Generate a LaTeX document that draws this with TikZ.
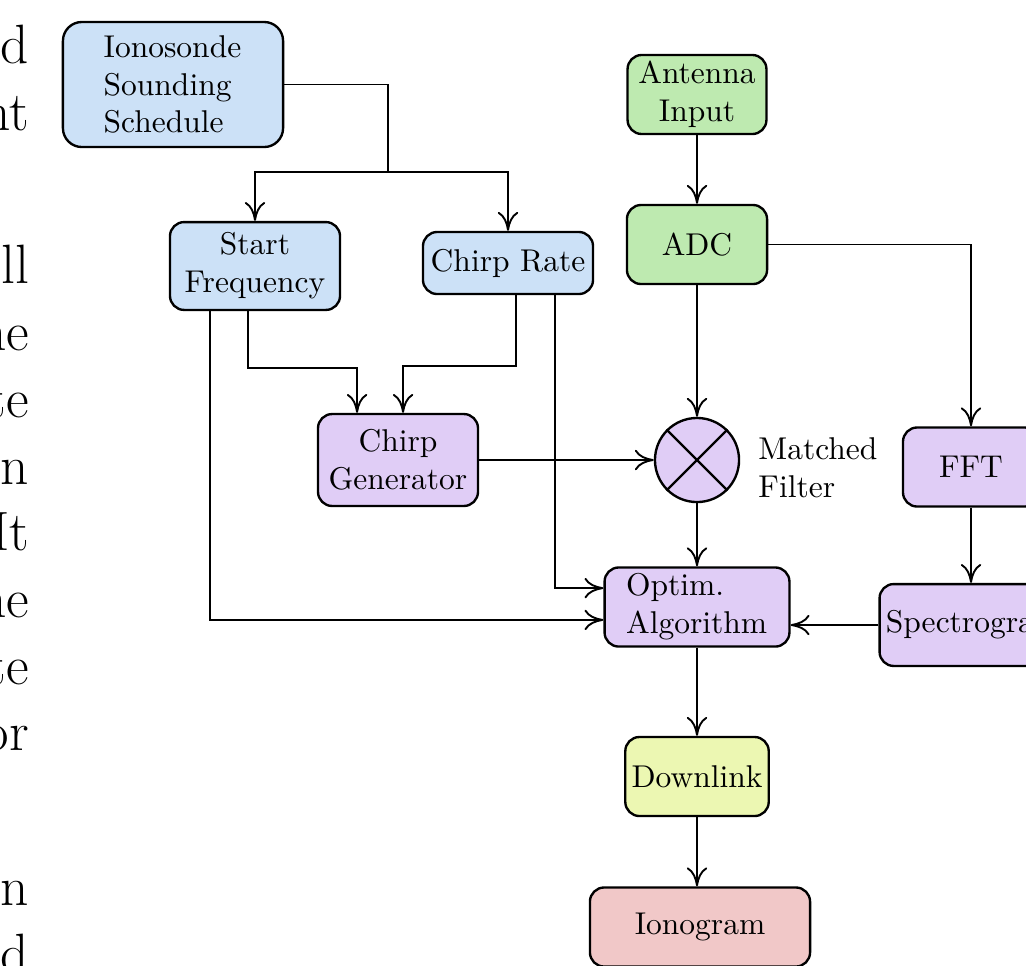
\documentclass[tikz,border=0pt]{standalone}
\usepackage{tikz}
\usetikzlibrary{arrows.meta}

\definecolor{boxblue}{RGB}{204,225,247}
\definecolor{boxgreen}{RGB}{190,234,176}
\definecolor{boxpurple}{RGB}{224,205,246}
\definecolor{boxyellow}{RGB}{236,247,178}
\definecolor{boxred}{RGB}{241,200,200}

\tikzset{
  blk/.style={draw, line width=0.75pt, rounded corners=4.5pt, align=center, inner sep=2pt},
  frag/.style={anchor=base east, inner sep=0pt, font=\fontsize{17.6}{21}\selectfont},
}

\begin{document}
\begin{tikzpicture}[x=0.3175pt, y=-0.3175pt, >={To[length=6pt,width=6.5pt]}, line width=0.6pt]

    % === 画布范围 ===
    \useasboundingbox (0,0) rectangle (1026,965);
    \clip (0,0) rectangle (1026,965);

    % === 左侧正文残字 ===
    \node[frag] (w1) at (30,63) {d};
    \node[frag] (w2) at (30,130) {nt};
    \node[frag] (w3) at (30,283) {ll};
    \node[frag] (w4) at (30,350) {ne};
    \node[frag] (w5) at (30,417) {te};
    \node[frag] (w6) at (30,484) {n};
    \node[frag] (w7) at (30,550) {It};
    \node[frag] (w8) at (30,617) {ne};
    \node[frag] (w9) at (30,684) {te};
    \node[frag] (w10) at (30,750) {or};
    \node[frag] (w11) at (30,905) {n};
    \node[frag] (w12) at (30,972) {d};

    % === 方框 ===
    \node[blk, fill=boxblue, rounded corners=6pt, minimum width=69.9pt, minimum height=39.7pt,
          text width=44pt, align=left] (sched) at (173,84.5) {Ionosonde\\Sounding\\Schedule};
    \node[blk, fill=boxblue, minimum width=54pt, minimum height=27.9pt] (sf) at (255,266) {Start\\Frequency};
    \node[blk, fill=boxblue, minimum width=54pt, minimum height=19.7pt] (cr) at (508,263) {Chirp Rate};
    \node[blk, fill=boxgreen, minimum width=44.1pt, minimum height=25.1pt] (ant) at (697,94.5) {Antenna\\Input};
    \node[blk, fill=boxgreen, minimum width=44.5pt, minimum height=25.1pt] (adc) at (697,244.5) {ADC};
    \node[blk, fill=boxpurple, minimum width=50.8pt, minimum height=29.2pt] (cg) at (398,460) {Chirp\\Generator};
    \node[draw, circle, line width=0.75pt, fill=boxpurple, minimum size=26.7pt, inner sep=0pt] (mf) at (697,460) {};
    \node[align=left, anchor=west] (mflbl) at (747,468) {Matched\\Filter};
    \node[blk, fill=boxpurple, minimum width=43.2pt, minimum height=25.1pt] (fft) at (971,467) {FFT};
    \node[blk, fill=boxpurple, minimum width=58.7pt, minimum height=24.8pt,
          text width=45pt, align=left] (opt) at (697,607) {Optim.\\Algorithm};
    \node[blk, fill=boxpurple, minimum width=59pt, minimum height=26pt] (spec) at (973,625) {Spectrogram};
    \node[blk, fill=boxyellow, minimum width=44.5pt, minimum height=25.1pt] (dl) at (697,776.5) {Downlink};
    \node[blk, fill=boxred, minimum width=69.9pt, minimum height=25.1pt] (iono) at (700,927) {Ionogram};

    % === 混频器的叉 ===
    \draw[line width=0.75pt] (mf.north west) -- (mf.south east);
    \draw[line width=0.75pt] (mf.north east) -- (mf.south west);

    % === 分支点 ===
    \coordinate (J) at (388,172);

    % === 连线 ===
    \draw (sched.east) -| (J);
    \draw[->] (J) -| (sf.north);
    \draw[->] (J) -| (cr.north);

    \draw[->] ([xshift=-2.2pt]sf.south) -- ++(0,57) -| ([xshift=-13pt]cg.north);
    \draw[->] ([xshift=2.5pt]cr.south) -- ++(0,71) -| ([xshift=1.6pt]cg.north);
    \draw[->] ([xshift=-14.3pt]sf.south) |- ([yshift=-4.1pt]opt.west);
    \draw[->] ([xshift=14.9pt]cr.south) |- ([yshift=6pt]opt.west);

    \draw[->] (ant) -- (adc);
    \draw[->] (adc) -- (mf);
    \draw[->] (adc.east) -| (fft.north);
    \draw[->] (cg.east) -- (mf.west);
    \draw[->] (mf) -- (opt);
    \draw[->] (fft.south) -- (fft.south |- spec.north);
    \draw[->] (spec.west) -- (spec.west -| opt.east);
    \draw[->] (opt) -- (dl);
    \draw[->] (dl.south) -- (dl.south |- iono.north);

\end{tikzpicture}
\end{document}
